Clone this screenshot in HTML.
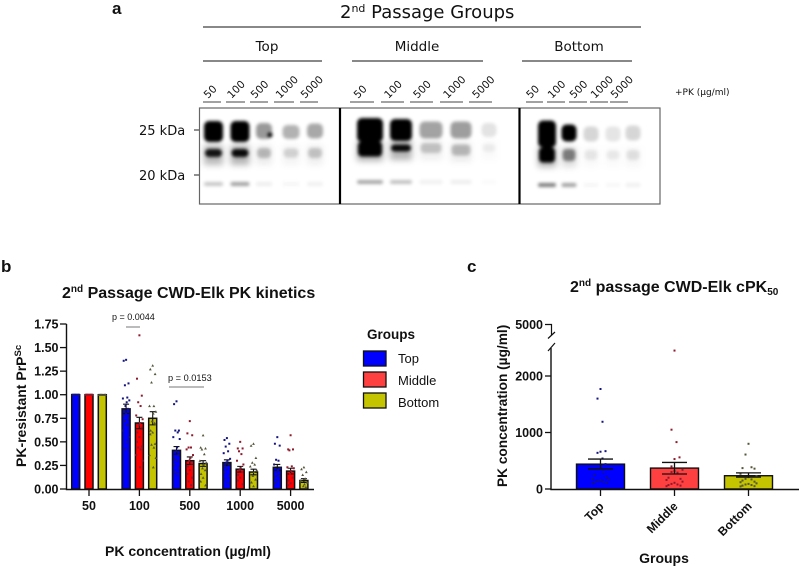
<!DOCTYPE html>
<html>
<head>
<meta charset="utf-8">
<style>
html,body{margin:0;padding:0;background:#fff;}
#page{position:relative;width:800px;height:567px;overflow:hidden;background:#fff;}
svg{position:absolute;left:0;top:0;}
.d{font-family:"DejaVu Sans",sans-serif;fill:#111;}
.l{font-family:"Liberation Sans",sans-serif;fill:#111;}
.b{font-family:"Liberation Sans",sans-serif;font-weight:700;fill:#111;}
</style>
</head>
<body>
<div id="page">
<svg id="fig" width="800" height="567" viewBox="0 0 800 567">
  <defs>
    <filter id="blur" x="-30%" y="-30%" width="160%" height="160%"><feGaussianBlur stdDeviation="1.7"/></filter>
    <filter id="blur-wide" x="-30%" y="-30%" width="160%" height="160%"><feGaussianBlur stdDeviation="3.2"/></filter>
    <clipPath id="blot-clip"><rect x="199" y="108" width="461" height="96"/></clipPath>
  </defs>

  <!-- Panel a -->
  <text class="b" x="112" y="14" font-size="17">a</text>
  <text class="d" x="340" y="18" font-size="18">2<tspan font-size="11" dy="-6">nd</tspan><tspan dy="6"> Passage Groups</tspan></text>
  <line x1="203" y1="27" x2="641" y2="27" stroke="#111" stroke-width="1"/>
  <text class="d" x="267" y="51" font-size="13.5" text-anchor="middle">Top</text>
  <text class="d" x="417" y="51" font-size="13.5" text-anchor="middle">Middle</text>
  <text class="d" x="579" y="51" font-size="13.5" text-anchor="middle">Bottom</text>
  <line x1="203" y1="61" x2="322" y2="61" stroke="#111" stroke-width="1"/>
  <line x1="352" y1="61" x2="483" y2="61" stroke="#111" stroke-width="1"/>
  <line x1="522" y1="61" x2="632" y2="61" stroke="#111" stroke-width="1"/>
  <g id="lanes"></g>
  <text class="d" x="675" y="95" font-size="9">+PK (µg/ml)</text>
  <text class="d" x="139" y="135" font-size="13">25 kDa</text>
  <text class="d" x="139" y="180" font-size="13">20 kDa</text>
  <line x1="194" y1="130" x2="199" y2="130" stroke="#222" stroke-width="1"/>
  <line x1="194" y1="175" x2="199" y2="175" stroke="#222" stroke-width="1"/>
  <g clip-path="url(#blot-clip)">
    <rect x="199" y="108" width="461" height="96" fill="#fff"/>
    <g id="halos" filter="url(#blur-wide)"></g>
    <g id="bands" filter="url(#blur)"></g>
  </g>
  <rect x="199.5" y="108" width="460.5" height="96" fill="none" stroke="#666" stroke-width="1.2"/>
  <line x1="340" y1="108" x2="340" y2="204" stroke="#000" stroke-width="2.2"/>
  <line x1="519.5" y1="108" x2="519.5" y2="204" stroke="#000" stroke-width="2.2"/>

  <!-- Panel b -->
  <text class="b" x="1" y="272" font-size="17">b</text>
  <text class="b" x="62" y="298" font-size="16">2<tspan font-size="10" dy="-6">nd</tspan><tspan dy="6"> Passage CWD-Elk PK kinetics</tspan></text>
  <text class="b" transform="translate(26,467) rotate(-90)" font-size="14">PK-resistant PrP<tspan font-size="9.5" dy="-5">Sc</tspan></text>
  <text class="b" x="105" y="556" font-size="14">PK concentration (µg/ml)</text>
  <g id="chart-b"></g>
  <text class="l" x="112" y="320" font-size="9" fill="#333">p = 0.0044</text>
  <line x1="126" y1="327" x2="140" y2="327" stroke="#777" stroke-width="1"/>
  <text class="l" x="168" y="381" font-size="9.2" fill="#333">p = 0.0153</text>
  <line x1="169" y1="387" x2="204" y2="387" stroke="#777" stroke-width="1"/>

  <!-- Legend -->
  <g>
    <text class="b" x="367" y="339" font-size="13.5">Groups</text>
    <rect x="363.5" y="351" width="22.5" height="15" fill="#0000ff" stroke="#111" stroke-width="1.3"/>
    <text class="l" x="398" y="363" font-size="13">Top</text>
    <rect x="363.5" y="372" width="22.5" height="15" fill="#ff4040" stroke="#111" stroke-width="1.3"/>
    <text class="l" x="398" y="385" font-size="13">Middle</text>
    <rect x="363.5" y="393" width="22.5" height="15" fill="#c4c400" stroke="#111" stroke-width="1.3"/>
    <text class="l" x="398" y="407" font-size="13">Bottom</text>
  </g>

  <!-- Panel c -->
  <text class="b" x="467" y="272" font-size="17">c</text>
  <text class="b" x="570" y="292" font-size="16">2<tspan font-size="10" dy="-6">nd</tspan><tspan dy="6"> passage CWD-Elk cPK</tspan><tspan font-size="10" dy="3">50</tspan></text>
  <text class="b" transform="translate(507,487) rotate(-90)" font-size="13.7">PK concentration (µg/ml)</text>
  <text class="b" x="664" y="563" font-size="14" text-anchor="middle">Groups</text>
  <g id="chart-c"></g>
</svg>
</div>

<script>
// ---------- Panel b data ----------
var concentrations = ['50', '100', '500', '1000', '5000'];
var groupNames = ['Top', 'Middle', 'Bottom'];
var bTicks = ['0.00', '0.25', '0.50', '0.75', '1.00', '1.25', '1.50', '1.75'];
var topMeans = [1.00, 0.85, 0.41, 0.28, 0.23];
var middleMeans = [1.00, 0.70, 0.30, 0.21, 0.19];
var bottomMeans = [1.00, 0.75, 0.27, 0.18, 0.09];
var topErrors = [0, 0.05, 0.04, 0.03, 0.03];
var middleErrors = [0, 0.06, 0.04, 0.03, 0.03];
var bottomErrors = [0, 0.07, 0.03, 0.03, 0.02];
var topPoints = [
  [1, 1, 1, 1, 1, 1],
  [1.37, 1.36, 1.12, 1.10, 0.97, 0.96, 0.94, 0.92, 0.88, 0.85, 0.83, 0.80, 0.78, 0.75, 0.72, 0.68, 0.62, 0.55, 0.50, 0.42],
  [0.93, 0.90, 0.62, 0.62, 0.60, 0.55, 0.53, 0.44, 0.40, 0.36, 0.32, 0.30, 0.26, 0.22, 0.18, 0.16],
  [0.54, 0.52, 0.48, 0.45, 0.40, 0.38, 0.32, 0.30, 0.28, 0.26, 0.24, 0.22, 0.18, 0.14, 0.10, 0.06],
  [0.55, 0.48, 0.46, 0.31, 0.30, 0.26, 0.22, 0.20, 0.16, 0.14, 0.12, 0.08, 0.06]
];
var middlePoints = [
  [1, 1, 1, 1, 1, 1],
  [1.63, 1.17, 0.99, 0.92, 0.88, 0.78, 0.74, 0.70, 0.68, 0.65, 0.60, 0.55, 0.50, 0.45, 0.44, 0.42, 0.36, 0.30, 0.23],
  [0.72, 0.59, 0.57, 0.44, 0.44, 0.42, 0.36, 0.33, 0.30, 0.27, 0.24, 0.20, 0.16, 0.12, 0.08, 0.04],
  [0.50, 0.43, 0.43, 0.40, 0.37, 0.30, 0.26, 0.22, 0.20, 0.18, 0.15, 0.12, 0.09, 0.05],
  [0.57, 0.42, 0.42, 0.41, 0.24, 0.23, 0.22, 0.19, 0.16, 0.12, 0.09, 0.06, 0.04]
];
var bottomPoints = [
  [1, 1, 1, 1, 1, 1],
  [1.31, 1.27, 1.22, 1.13, 0.88, 0.88, 0.82, 0.80, 0.72, 0.70, 0.62, 0.60, 0.58, 0.48, 0.47, 0.44, 0.36, 0.33, 0.23],
  [0.57, 0.44, 0.43, 0.42, 0.37, 0.30, 0.28, 0.26, 0.22, 0.20, 0.16, 0.12, 0.08, 0.04],
  [0.48, 0.46, 0.33, 0.28, 0.26, 0.24, 0.20, 0.18, 0.14, 0.10, 0.07, 0.03],
  [0.23, 0.21, 0.18, 0.15, 0.11, 0.09, 0.07, 0.05, 0.03, 0.02]
];

// ---------- Panel c data ----------
var cTickValues = [0, 1000, 2000];
var cTopTick = '5000';
var cTopMean = 440;
var cMiddleMean = 370;
var cBottomMean = 235;
var cTopErrorHigh = 530, cTopErrorLow = 355;
var cMiddleErrorHigh = 470, cMiddleErrorLow = 265;
var cBottomErrorHigh = 285, cBottomErrorLow = 210;
var cTopPoints = [1770, 1600, 1190, 670, 660, 640, 540, 440, 360, 300, 250, 210, 180, 170, 150, 140, 130, 120, 110, 100];
var cMiddlePoints = [2450, 1050, 830, 560, 530, 400, 340, 320, 300, 290, 200, 180, 160, 130, 110, 90, 80, 70, 60, 50];
var cBottomPoints = [800, 610, 385, 370, 360, 270, 230, 210, 180, 170, 150, 130, 120, 100, 90, 80, 70, 60, 50, 45];

// ---------- Blot data (band darkness per lane) ----------
var laneLabels = ['50', '100', '500', '1000', '5000'];
var laneRuleStarts = [203, 226, 250, 274, 300, 350, 381, 410, 440, 469, 526, 547, 569, 590, 610];
var laneRuleEnds = [221, 245, 268, 294, 318, 374, 404, 433, 463, 492, 543, 565, 587, 608, 628];
var bandCentres = [213.5, 240, 264, 291, 315, 370, 401, 431, 461, 489, 547, 569, 591, 613, 633];
var bandWidths = [19, 19, 16, 17, 16, 26, 22, 23, 21, 15, 18, 15, 15, 15, 15];
var bandUpper = [1, 1, .4, .3, .34, 1, 1, .36, .38, .11, 1, 1, .16, .1, .16];
var bandLower = [.9, .95, .24, .15, .2, 1, .95, .2, .24, .06, 1, .45, .08, .07, .1];
var bandLow = [.22, .36, .07, .04, .06, .34, .24, .06, .07, .02, .5, .36, .04, .03, .06];
var bandUpperHeights = [21, 21, 16, 14, 15, 24, 22, 17, 17, 14, 27, 17, 15, 15, 15];
var bandLowerHeights = [8, 8, 10, 9, 10, 15, 7, 10, 11, 8, 15, 12, 10, 9, 10];
var bandUpperY = [131.5, 131.5, 131, 132, 131, 130, 130, 130, 130, 130, 134, 133, 134, 134, 133];
var bandLowerY = [153, 153, 153, 153, 153, 149, 148, 148, 150, 148, 155, 155, 155, 155, 155];
var bandLowY = [184, 184, 184, 184, 184, 182, 182, 182, 182, 182, 185, 185, 185, 185, 185];

var NS = 'http://www.w3.org/2000/svg';
function mk(parent, tag, props, txt) {
  var e = document.createElementNS(NS, tag);
  for (var k in props) e.setAttribute(k, props[k]);
  if (txt !== undefined) e.textContent = txt;
  parent.appendChild(e);
  return e;
}

// Blot
var bandsG = document.getElementById('bands');
var halosG = document.getElementById('halos');
var lanesG = document.getElementById('lanes');
bandCentres.forEach(function (cx, i) {
  var w = bandWidths[i];
  var up = mk(bandsG, 'rect', {x: cx - w / 2, y: bandUpperY[i] - bandUpperHeights[i] / 2, width: w, height: bandUpperHeights[i], rx: 5, fill: '#000', opacity: bandUpper[i]});
  
  
  var lo = mk(bandsG, 'rect', {x: cx - w / 2 + 1, y: bandLowerY[i] - bandLowerHeights[i] / 2, width: w - 2, height: bandLowerHeights[i], rx: 4, fill: '#000', opacity: bandLower[i]});
  
  
  var fa = mk(bandsG, 'rect', {x: cx - w / 2, y: bandLowY[i] - 2, width: w, height: 4, rx: 2, fill: '#000', opacity: bandLow[i]});
  
  
  var ha = mk(halosG, 'rect', {x: cx - w / 2, y: bandLowerY[i] - 8, width: w, height: 20, fill: '#000', opacity: bandLower[i] * 0.3});
  
  

  var rule = mk(lanesG, 'line', {x1: laneRuleStarts[i], y1: 102, x2: laneRuleEnds[i], y2: 102, stroke: '#444', 'stroke-width': 1});
  
  
  var lx = (laneRuleStarts[i] + laneRuleEnds[i]) / 2 - 4;
  var lab = mk(lanesG, 'text', {'class': 'd', x: 0, y: 0, 'font-size': 10.5, transform: 'translate(' + lx + ',99) rotate(-45)'}, laneLabels[i % 5]);
  
  
});
var spot = mk(bandsG, 'circle', {cx: 270, cy: 135, r: 2.5, fill: '#000'});



// Shared jitter pattern for swarm placement
var jitter = [0, -2.4, 2.4, -1.2, 1.2, -3.2, 3.2, 0.6, -0.6, 2, -2];

// Panel b
var gB = document.getElementById('chart-b');
var Y0 = 489, PXU = 165 / 1.75;
function yB(v) { return Y0 - v * PXU; }
function xB(i) { return 89 + i * 50.4; }
var seriesB = [
  {means: topMeans, errs: topErrors, pts: topPoints, fill: '#0000ff', dot: '#14147f'},
  {means: middleMeans, errs: middleErrors, pts: middlePoints, fill: '#ff0000', dot: '#8e1a2c'},
  {means: bottomMeans, errs: bottomErrors, pts: bottomPoints, fill: '#c4c400', dot: '#55553a'}
];
var offsets = [-13.3, 0, 13.3];
seriesB.forEach(function (s, si) {
  concentrations.forEach(function (c, ci) {
    var cx = xB(ci) + offsets[si];
    var bar = mk(gB, 'rect', {x: cx - 4, y: yB(s.means[ci]), width: 8, height: Y0 - yB(s.means[ci]), fill: s.fill, stroke: '#111', 'stroke-width': 1.5});
    
    
    if (s.errs[ci] > 0) {
      var e1 = mk(gB, 'path', {
        d: 'M' + cx + ' ' + yB(s.means[ci] + s.errs[ci]) + 'V' + yB(s.means[ci] - s.errs[ci]) +
           'M' + (cx - 3) + ' ' + yB(s.means[ci] + s.errs[ci]) + 'H' + (cx + 3) +
           'M' + (cx - 3) + ' ' + yB(s.means[ci] - s.errs[ci]) + 'H' + (cx + 3),
        stroke: '#111', 'stroke-width': 1.1, fill: 'none'});
      
      
    }
    s.pts[ci].forEach(function (v, pi) {
      var px = cx + (ci === 0 ? (pi - 2.5) * 1.3 : jitter[pi % jitter.length]);
      var py = yB(v);
      var pt;
      if (si === 2) {
        pt = mk(gB, 'path', {d: 'M' + px + ' ' + (py - 1.4) + 'l1.4 2.5h-2.8z', fill: s.dot});
      } else {
        pt = mk(gB, 'rect', {x: px - 1, y: py - 1, width: 2, height: 2, fill: s.dot});
      }
      
      
    });
  });
});
var axB = mk(gB, 'path', {d: 'M66.5 ' + yB(1.75) + 'V' + (Y0 + 0.5) + 'H314', stroke: '#111', 'stroke-width': 1.4, fill: 'none'});


bTicks.forEach(function (t) {
  var tk = mk(gB, 'line', {x1: 60, x2: 66.5, y1: yB(+t), y2: yB(+t), stroke: '#111', 'stroke-width': 1.3});
  
  
  var lb = mk(gB, 'text', {'class': 'b', x: 58.5, y: yB(+t) + 4.5, 'font-size': 12.5, 'text-anchor': 'end'}, t);
  
  
});
concentrations.forEach(function (c, i) {
  var tk = mk(gB, 'line', {x1: xB(i), x2: xB(i), y1: Y0, y2: Y0 + 7, stroke: '#111', 'stroke-width': 1.3});
  
  
  var lb = mk(gB, 'text', {'class': 'b', x: xB(i), y: 510, 'font-size': 12.5, 'text-anchor': 'middle'}, c);
  
  
});

// Panel c
var gC = document.getElementById('chart-c');
function yC(v) { return Y0 - v * 0.0565; }
var xC = [600.5, 674.5, 748.5];
var seriesC = [
  {mean: cTopMean, hi: cTopErrorHigh, lo: cTopErrorLow, pts: cTopPoints, fill: '#0000ff', dot: '#14147f'},
  {mean: cMiddleMean, hi: cMiddleErrorHigh, lo: cMiddleErrorLow, pts: cMiddlePoints, fill: '#ff4040', dot: '#8e1a2c'},
  {mean: cBottomMean, hi: cBottomErrorHigh, lo: cBottomErrorLow, pts: cBottomPoints, fill: '#c4c400', dot: '#55553a'}
];
seriesC.forEach(function (s, i) {
  var cx = xC[i];
  var bar = mk(gC, 'rect', {x: cx - 24, y: yC(s.mean), width: 48, height: Y0 - yC(s.mean), fill: s.fill, stroke: '#111', 'stroke-width': 1.4});
  
  
  s.pts.forEach(function (v, pi) {
    var px = cx + (v < 400 ? [0, -3, 3, -6, 6, -8, 8][pi % 7] : [0, -3, 2, 5][pi % 4]);
    var pt = mk(gC, 'rect', {x: px - 1, y: yC(v) - 1, width: 2, height: 2, fill: s.dot});
    
    
  });
  var err = mk(gC, 'path', {
    d: 'M' + cx + ' ' + yC(s.hi) + 'V' + yC(s.lo) +
       'M' + (cx - 12.5) + ' ' + yC(s.hi) + 'H' + (cx + 12.5) +
       'M' + (cx - 12.5) + ' ' + yC(s.lo) + 'H' + (cx + 12.5),
    stroke: '#111', 'stroke-width': 1.3, fill: 'none'});
  
  
  var tk = mk(gC, 'line', {x1: cx, x2: cx, y1: Y0, y2: Y0 + 7, stroke: '#111', 'stroke-width': 1.3});
  
  
  var lb = mk(gC, 'text', {'class': 'b', x: 0, y: 0, 'font-size': 12, 'text-anchor': 'end', transform: 'translate(' + (cx + 4) + ',507) rotate(-45)'}, groupNames[i]);
  
  
});
var axC = mk(gC, 'path', {d: 'M551 348V' + (Y0 + 0.5) + 'H799', stroke: '#111', 'stroke-width': 1.4, fill: 'none'});


var axC2 = mk(gC, 'path', {d: 'M545 324.5H551.5V335M548 338.5L555 332M548 351L555 343', stroke: '#111', 'stroke-width': 1.2, fill: 'none'});


var lb5k = mk(gC, 'text', {'class': 'b', x: 543, y: 329, 'font-size': 12.5, 'text-anchor': 'end'}, cTopTick);


cTickValues.forEach(function (v) {
  var tk = mk(gC, 'line', {x1: 545, x2: 551, y1: yC(v), y2: yC(v), stroke: '#111', 'stroke-width': 1.3});
  
  
  var lb = mk(gC, 'text', {'class': 'b', x: 543, y: yC(v) + 4.5, 'font-size': 12.5, 'text-anchor': 'end'}, String(v));
  
  
});
</script>
</body>
</html>
